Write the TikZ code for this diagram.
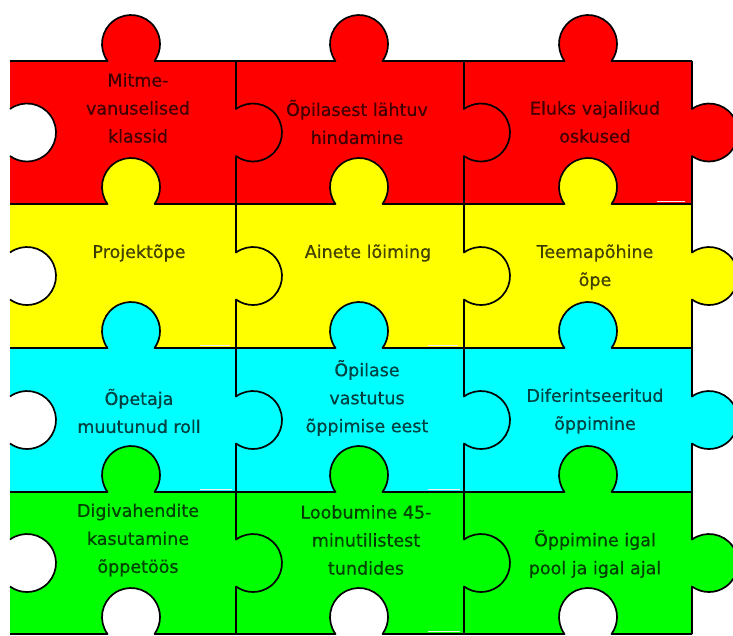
\documentclass[tikz,border=0pt]{standalone}
\usepackage{fontspec}
\newfontfamily\labelfont[FakeBold=0.5]{DejaVu Sans}
\definecolor{pzred}{HTML}{FF0000}
\definecolor{pzyellow}{HTML}{FFFF00}
\definecolor{pzcyan}{HTML}{00FFFF}
\definecolor{pzgreen}{HTML}{00FF00}
% knob geometry: radius 29, centre 17 beyond the edge, neck half-width 23.49
\newcommand\hknob[2]{-- ({#1-23.49},#2) arc[start angle=215.89, end angle=-35.89, radius=29]}
\newcommand\vknob[2]{-- (#1,{#2+23.49}) arc[start angle=125.89, end angle=-125.89, radius=29]}
\tikzset{
  outline/.style={draw=black, line width=1.7pt, line join=round},
  label/.style={font=\labelfont\fontsize{17.5}{28}\selectfont, align=center, text=black, text opacity=0.72, inner sep=0pt},
  seam/.style={draw=white!88!gray, line width=1pt}
}
\begin{document}
\begin{tikzpicture}[x=1pt,y=1pt]
\useasboundingbox (0,0) rectangle (733,-635);
\clip (0,0) rectangle (733,-635);
\fill[white] (0,0) rectangle (733,-635);

% row bodies
\fill[pzred]    (10,-61)  rectangle (692,-204);
\fill[pzyellow] (10,-204) rectangle (692,-348);
\fill[pzcyan]   (10,-348) rectangle (692,-492);
\fill[pzgreen]  (10,-492) rectangle (692,-634);

% upward knobs of each row
\foreach \cx in {131,359,588} {
  \fill[pzred]    (\cx,-44)  circle[radius=29];
  \fill[pzyellow] (\cx,-187) circle[radius=29];
  \fill[pzcyan]   (\cx,-331) circle[radius=29];
  \fill[pzgreen]  (\cx,-475) circle[radius=29];
  \fill[white]    (\cx,-617) circle[radius=29];
}

% knobs on the right side and holes on the left side
\fill[pzred]    (709,-132.5) circle[radius=29];
\fill[pzyellow] (709,-276)   circle[radius=29];
\fill[pzcyan]   (709,-420)   circle[radius=29];
\fill[pzgreen]  (709,-563)   circle[radius=29];
\foreach \cy in {-132.5,-276,-420,-563}
  \fill[white] (27,\cy) circle[radius=29];

% horizontal seams
\foreach \Y in {-61,-204,-348,-492,-634}
  \draw[outline] (10,\Y) \hknob{131}{\Y} \hknob{359}{\Y} \hknob{588}{\Y} -- (692,\Y);

% vertical seams
\foreach \X in {236,464,692}
  \draw[outline] (\X,-61) \vknob{\X}{-132.5} \vknob{\X}{-276} \vknob{\X}{-420} \vknob{\X}{-563} -- (\X,-634);

% left holes
\foreach \cy in {-132.5,-276,-420,-563}
  \draw[outline] (10,{\cy+23.49}) arc[start angle=125.89, end angle=-125.89, radius=29];

% light seams along the joints
\draw[seam] (657,-201.5) -- (685,-201.5);
\draw[seam] (200,-345.5) -- (230,-345.5);
\draw[seam] (428,-345.5) -- (458,-345.5);
\draw[seam] (200,-489.5) -- (232,-489.5);
\draw[seam] (428,-489.5) -- (460,-489.5);
\draw[seam] (428,-631.5) -- (460,-631.5);

% labels
\node[label] (r1c1) at (138,-108) {Mitme-\\vanuselised\\klassid};
\node[label] (r1c2) at (357,-122) {Õpilasest lähtuv\\hindamine};
\node[label] (r1c3) at (595,-122) {Eluks vajalikud\\oskused};
\node[label] (r2c1) at (139,-253) {Projektõpe};
\node[label] (r2c2) at (368,-253) {Ainete lõiming};
\node[label] (r2c3) at (595,-267) {Teemapõhine\\õpe};
\node[label] (r3c1) at (139,-411) {Õpetaja\\muutunud roll};
\node[label] (r3c2) at (367,-398) {Õpilase\\vastutus\\õppimise eest};
\node[label] (r3c3) at (595,-411) {Diferintseeritud\\õppimine};
\node[label] (r4c1) at (138,-540) {Digivahendite\\kasutamine\\õppetöös};
\node[label] (r4c2) at (366,-540) {Loobumine 45-\\minutilistest\\tundides};
\node[label] (r4c3) at (595,-554) {Õppimine igal\\pool ja igal ajal};
\end{tikzpicture}
\end{document}
